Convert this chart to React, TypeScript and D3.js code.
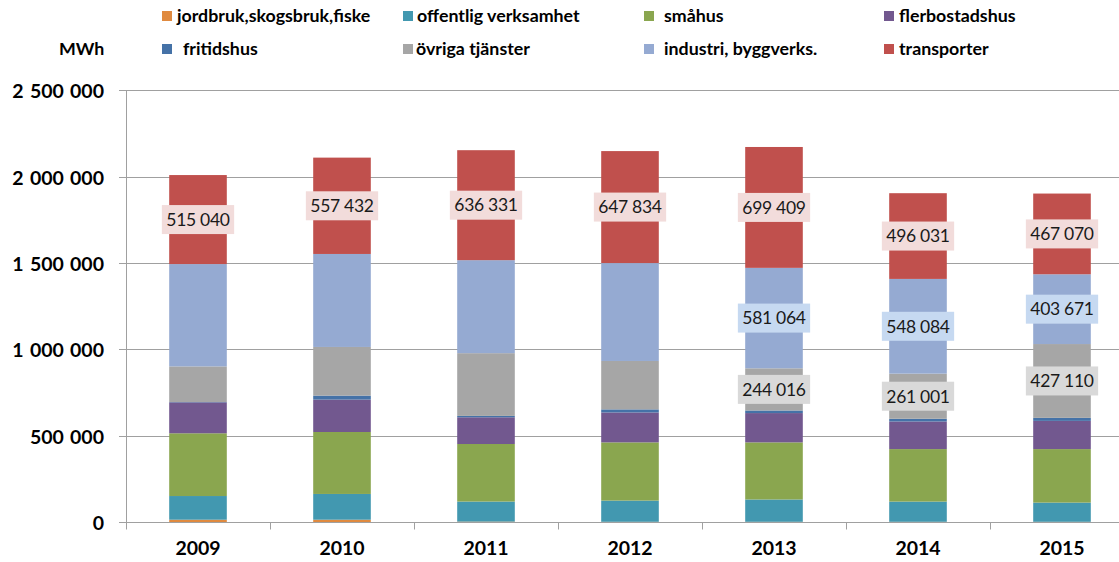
import React, { useEffect, useRef } from 'react';
import * as d3 from 'd3';

const years = ['2009', '2010', '2011', '2012', '2013', '2014', '2015'];
const jordbruk = [15000, 15000, 4000, 3000, 3000, 3000, 3000];
const offentlig = [137000, 149000, 116000, 122600, 129000, 116800, 111000];
const smahus = [363000, 358500, 333000, 336800, 330400, 303800, 309600];
const flerbostadshus = [179000, 187500, 154600, 173000, 169600, 159700, 163200];
const fritidshus = [2000, 23000, 8000, 18000, 15000, 15700, 17400];
const ovriga = [206000, 281500, 363000, 280000, 244016, 261001, 427110];
const industri = [592000, 538000, 538000, 566500, 581064, 548084, 403671];
const transporter = [515040, 557432, 636331, 647834, 699409, 496031, 467070];

const seriesNames = [
  'jordbruk,skogsbruk,fiske',
  'offentlig verksamhet',
  'småhus',
  'flerbostadshus',
  'fritidshus',
  'övriga tjänster',
  'industri, byggverks.',
  'transporter',
];
const seriesValues = [jordbruk, offentlig, smahus, flerbostadshus, fritidshus, ovriga, industri, transporter];
const seriesColors = ['#E08A3F', '#4298B0', '#8AA64F', '#72588F', '#4572A7', '#A6A6A6', '#95AAD2', '#C0504D'];
// which year labels are shown per series
const labelShown = [
  [0, 0, 0, 0, 0, 0, 0],
  [0, 0, 0, 0, 0, 0, 0],
  [0, 0, 0, 0, 0, 0, 0],
  [0, 0, 0, 0, 0, 0, 0],
  [0, 0, 0, 0, 0, 0, 0],
  [0, 0, 0, 0, 1, 1, 1],
  [0, 0, 0, 0, 1, 1, 1],
  [1, 1, 1, 1, 1, 1, 1],
];
const labelBg = [null, null, null, null, null, '#D9D9D9', '#C6D9F1', '#F2DCDB'];
const yTicks = [0, 500000, 1000000, 1500000, 2000000, 2500000];
const legendOrder = [0, 1, 2, 3, 4, 5, 6, 7];

const W = 1119;
const H = 562;
const FONT = 'Lato, "Open Sans", Calibri, sans-serif';

function fmt(v: number) {
  return d3.format(',')(v).replace(/,/g, ' ');
}

export default function App() {
  const ref = useRef<SVGSVGElement>(null);

  useEffect(() => {
    const svg = d3.select(ref.current);
    svg.selectAll('*').remove();

    const x = d3.scaleBand<string>().domain(years).range([126, 1134]).paddingInner(0.6).paddingOuter(0.3);
    const y = d3.scaleLinear().domain([0, 2500000]).range([522.3, 90.2]);
    const step = x.step();
    const x0 = 126;

    // gridlines
    const g = svg.append('g');
    yTicks.forEach((t) => {
      const yy = Math.round(y(t)) + 0.5;
      g.append('line')
        .attr('x1', x0).attr('x2', W)
        .attr('y1', yy).attr('y2', yy)
        .attr('stroke', '#A0A0A0').attr('stroke-width', 1);
      g.append('line')
        .attr('x1', x0 - 7).attr('x2', x0)
        .attr('y1', yy).attr('y2', yy)
        .attr('stroke', '#A0A0A0').attr('stroke-width', 1);
      g.append('text')
        .attr('x', 104).attr('y', yy)
        .attr('dy', '0.36em')
        .attr('text-anchor', 'end')
        .attr('font-family', FONT).attr('font-weight', 700).attr('font-size', 19.5)
        .attr('word-spacing', 1.5)
        .attr('fill', '#000')
        .text(fmt(t));
    });

    // stacked bars
    const table = years.map((yr, i) => {
      const row: any = { year: yr };
      seriesValues.forEach((s, k) => (row['s' + k] = s[i]));
      return row;
    });
    const stack = d3.stack<any>().keys(seriesValues.map((_, k) => 's' + k));
    const stacked = stack(table);

    stacked.forEach((layer, k) => {
      svg.append('g').selectAll('rect').data(layer).enter().append('rect')
        .attr('x', (d) => x(d.data.year)!)
        .attr('width', x.bandwidth())
        .attr('y', (d) => y(d[1]))
        .attr('height', (d) => Math.max(0, y(d[0]) - y(d[1])))
        .attr('fill', seriesColors[k]);
    });

    // axis line
    const axisY = Math.round(y(0)) + 0.5;
    svg.append('line')
      .attr('x1', x0 + 0.5).attr('x2', x0 + 0.5)
      .attr('y1', y(2500000)).attr('y2', axisY + 7)
      .attr('stroke', '#A0A0A0');
    svg.append('line')
      .attr('x1', x0).attr('x2', W)
      .attr('y1', axisY).attr('y2', axisY)
      .attr('stroke', '#A0A0A0');
    for (let i = 1; i <= years.length; i++) {
      const xx = Math.round(x0 + i * step) + 0.5;
      svg.append('line')
        .attr('x1', xx).attr('x2', xx)
        .attr('y1', axisY).attr('y2', axisY + 7)
        .attr('stroke', '#A0A0A0');
    }
    years.forEach((yr) => {
      svg.append('text')
        .attr('x', x(yr)! + x.bandwidth() / 2)
        .attr('y', 548)
        .attr('dy', '0.36em')
        .attr('text-anchor', 'middle')
        .attr('font-family', FONT).attr('font-weight', 700).attr('font-size', 19.5)
        .attr('fill', '#000')
        .text(yr);
    });

    // data labels
    stacked.forEach((layer, k) => {
      layer.forEach((d, i) => {
        if (!labelShown[k][i]) return;
        const cx = x(d.data.year)! + x.bandwidth() / 2;
        const cy = y((d[0] + d[1]) / 2);
        const lg = svg.append('g');
        const rect = lg.append('rect').attr('fill', labelBg[k] as string);
        const txt = lg.append('text')
          .attr('x', cx).attr('y', cy)
          .attr('dy', '0.36em')
          .attr('text-anchor', 'middle')
          .attr('font-family', FONT).attr('font-size', 17.5)
          .attr('letter-spacing', -0.3)
          .attr('fill', '#1a1a1a')
          .text(fmt(seriesValues[k][i]));
        const tw = (txt.node() as SVGTextElement).getComputedTextLength();
        const bw = Math.max(tw + 9, 72);
        const bh = 29;
        rect.attr('x', cx - bw / 2).attr('y', cy - bh / 2).attr('width', bw).attr('height', bh);
      });
    });

    // legend
    const colMarker = [162, 403, 644, 884];
    const rowY = [16, 49];
    const textDx = [[15, 14, 20, 15], [21, 13, 20, 15]];
    legendOrder.forEach((k, idx) => {
      const row = Math.floor(idx / 4);
      const col = idx % 4;
      const mx = colMarker[col];
      const my = rowY[row];
      svg.append('rect')
        .attr('x', mx).attr('y', my - 5).attr('width', 10).attr('height', 10)
        .attr('fill', seriesColors[k]);
      svg.append('text')
        .attr('x', mx + textDx[row][col]).attr('y', my)
        .attr('dy', '0.36em')
        .attr('font-family', FONT).attr('font-weight', 700).attr('font-size', 17.8)
        .attr('fill', '#000')
        .text(seriesNames[k]);
    });

    svg.append('text')
      .attr('x', 59).attr('y', 49)
      .attr('dy', '0.36em')
      .attr('font-family', FONT).attr('font-weight', 700).attr('font-size', 17.8)
      .attr('fill', '#000')
      .text('MWh');
  }, []);

  return (
    <svg
      ref={ref}
      width={W}
      height={H}
      style={{ position: 'absolute', left: 0, top: 0, background: '#fff' }}
    />
  );
}
